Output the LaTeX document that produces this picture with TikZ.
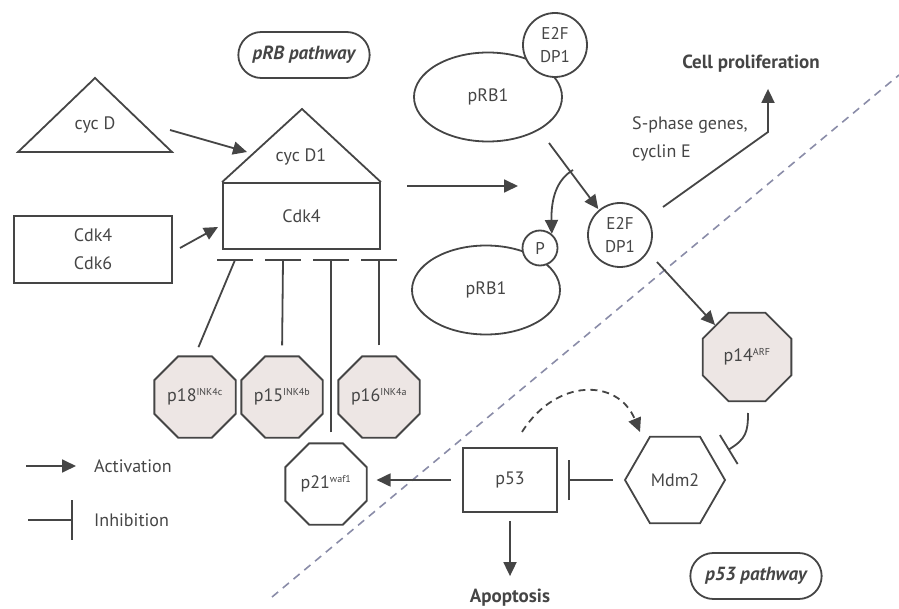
\documentclass[tikz,border=0pt]{standalone}
\usepackage{fontspec}
\setmainfont{PT Sans}
\usetikzlibrary{arrows.meta,shapes.geometric,shapes.misc,positioning}

\definecolor{trait}{HTML}{454545}
\definecolor{rosegris}{HTML}{EDE6E4}
\definecolor{pointille}{HTML}{8A8CA8}

\newcommand{\expo}[1]{\textsuperscript{\fontsize{10}{10}\selectfont #1}}

\tikzset{
  active/.style={-{Triangle[length=14pt,width=13pt]}},
  inhibe/.style={-{Bar[width=40pt]}},
  boite/.style={draw,rectangle,inner sep=0pt},
  octo/.style={draw,regular polygon,regular polygon sides=8,minimum size=88pt,inner sep=0pt,fill=rosegris},
  rond/.style={draw,circle,fill=white,minimum size=64pt,inner sep=0pt,align=center,font=\fontsize{17}{23}\selectfont},
  oeuf/.style={draw,ellipse,minimum width=148pt,minimum height=89pt},
  voie/.style={draw,rounded rectangle,minimum width=138pt,minimum height=46pt,font=\fontsize{19}{22}\selectfont\bfseries\itshape},
  gras/.style={font=\fontsize{19}{22}\selectfont\bfseries}
}

\begin{document}
\begin{tikzpicture}[x=1pt,y=-1pt,line width=1.8pt,color=trait,
    every node/.style={font=\fontsize{18}{22}\selectfont}]
  \useasboundingbox (0,0) rectangle (899,609);
  % ------ frontiere entre les deux voies -----------------------
  \draw[pointille,line width=1.6pt,dash pattern=on 8pt off 6pt] (272,597) -- (899,75);

  % ------ voie pRB ---------------------------------------------
  \node[voie] (voierb) at (304,55) {pRB pathway};
  \node (cycd) at (95,125) {cyc D};
  \draw (18,152) -- (95,78) -- (172,152) -- cycle;
  \node[boite,minimum width=158pt,minimum height=67pt,align=center,
        font=\fontsize{18}{28}\selectfont] (cdksix) at (93,249.5) {Cdk4\\Cdk6};
  \node[boite,minimum width=157pt,minimum height=66pt] (cdk) at (301.5,216) {Cdk4};
  \draw (cdk.north west) -- (302,109) -- (cdk.north east);
  \node (cycdun) at (301,157) {cyc D1};

  \coordinate (cycdsort) at (170,130);
  \coordinate (cycdentre) at (247,152);
  \coordinate (cdksort) at (180,248);
  \coordinate (cdkentre) at (218,227);
  \draw[active] (cycdsort) -- (cycdentre);
  \draw[active] (cdksort) -- (cdkentre);

  % les inhibiteurs
  \node[octo,label=center:p18\expo{INK4c}] (pdixhuit) at (195,397) {};
  \node[octo,label=center:p15\expo{INK4b}] (pquinze) at (282,397) {};
  \node[octo,label=center:p16\expo{INK4a}] (pseize) at (379,397) {};
  \node[octo,fill=white,label=center:p21\expo{waf1}] (pvingtetun) at (326,484) {};
  \foreach \n/\x in {a/235,b/283,c/331,d/379}{
    \coordinate (barre\n) at (\x,260);
    \draw ([xshift=-18pt]barre\n) -- ([xshift=18pt]barre\n);
  }
  \draw[shorten <=9pt] (pdixhuit.north) -- (barrea);
  \draw[shorten <=10pt] (pquinze.north) -- (barreb);
  \draw[shorten <=10pt] (barrec |- pvingtetun.north) -- (barrec);
  \draw[shorten <=10pt] (pseize.north) -- (barred);

  % pRB1 et E2F
  \node[oeuf] (rbun) at (488,97) {pRB1};
  \node[rond] (efun) at (555,45) {E2F\\DP1};
  \node[oeuf] (rbdeux) at (486,290) {pRB1};
  \node[rond,minimum size=35pt] (phos) at (540,248) {P};
  \node[rond] (efdeux) at (620,235) {E2F\\DP1};

  \coordinate (longdeb) at (407,186);
  \coordinate (longfin) at (518,186);
  \draw[active] (longdeb) -- (longfin);
  \coordinate (rbsort) at (549,143);
  \coordinate (fourche) at (573,170);
  \draw[active,shorten >=1pt] (rbsort) -- (efdeux.130);
  \draw[active] (fourche) .. controls (556,180) and (551,200) .. (phos.50);

  \node[gras] (prolif) at (751,64) {Cell proliferation};
  \node[anchor=west,align=left,font=\fontsize{18}{28}\selectfont] (sphase) at (628,139) {S-phase genes,\\cyclin E};
  \coordinate (efsort) at (663,207);
  \coordinate (coude) at (768,132);
  \draw[active] (efsort) -- (coude) -- ([yshift=-12pt]prolif.south -| coude);

  % ------ voie p53 ---------------------------------------------
  \node[octo,minimum size=96pt,label=center:p14\expo{ARF}] (pquatorze) at (747,357) {};
  \node[draw,regular polygon,regular polygon sides=6,minimum size=100pt,inner sep=0pt] (mdm) at (675,480) {Mdm2};
  \node[boite,minimum width=94pt,minimum height=64pt] (pcinq) at (510,480) {p53};
  \node[gras] (apop) at (510,598) {Apoptosis};
  \node[voie] (voiepcinq) at (756,576) {p53 pathway};

  \coordinate (efbas) at (657,262);
  \draw[active] (efbas) -- (pquatorze.north west);
  \coordinate (arfsort) at (748,413);
  \coordinate (arfbarre) at (728,450);
  \draw[-{Bar[width=34pt]}] (arfsort) .. controls (748,432) and (746,439) .. (arfbarre);
  \draw[inhibe,shorten <=11pt,shorten >=10pt] (mdm.west) -- (pcinq.east);
  \draw[active,shorten <=11pt,shorten >=9pt] (pcinq.west) -- (pcinq.west -| pvingtetun.east);
  \draw[active,shorten <=8pt] (pcinq.south) -- ([yshift=9pt]apop.north);
  \coordinate (boucledeb) at (522,432);
  \coordinate (bouclefin) at (640,432);
  \draw[active,dash pattern=on 7pt off 5pt] (boucledeb) .. controls (556,378) and (618,378) .. (bouclefin);

  % ------ legende ----------------------------------------------
  \node[anchor=west] (activ) at (90,466) {Activation};
  \node[anchor=west] (inhib) at (90,520) {Inhibition};
  \draw[active] ([xshift=-64pt]activ.west) -- ([xshift=-14pt]activ.west);
  \draw[inhibe] ([xshift=-62pt]inhib.west) -- ([xshift=-17pt]inhib.west);
\end{tikzpicture}
\end{document}
